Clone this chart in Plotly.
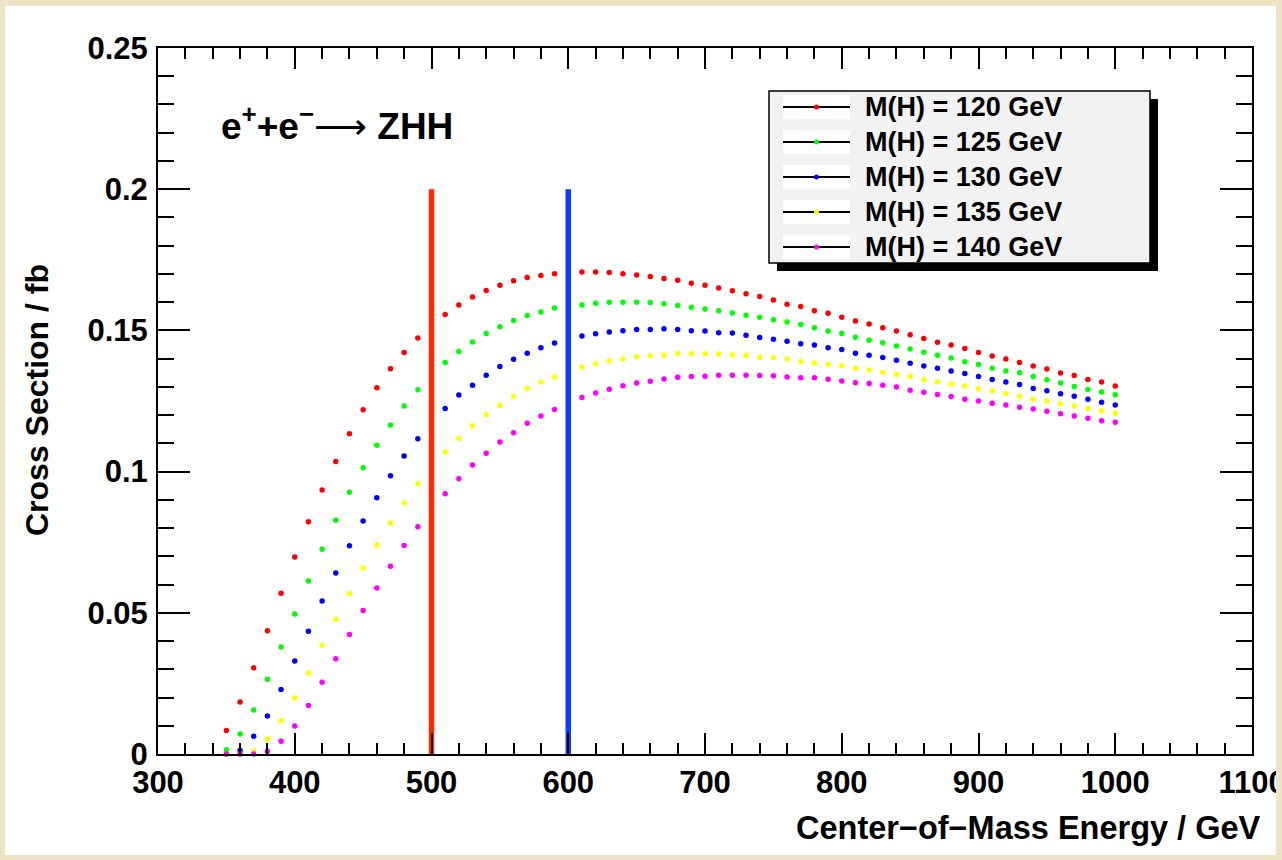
import plotly.graph_objects as go

# ---------------- data ----------------
energy = list(range(350, 1001, 10))  # GeV (points at 500 and 600 hidden behind the cut lines)

mh120 = [0.0083, 0.0184, 0.0305, 0.0436, 0.0569, 0.0698, 0.0822, 0.0935, 0.1036, 0.1134,
         0.1219, 0.1297, 0.1364, 0.1422, 0.1473, None, 0.1556, 0.1590, 0.1618, 0.1641,
         0.1660, 0.1676, 0.1687, 0.1694, 0.1701, None, 0.1707, 0.1707, 0.1705, 0.1701,
         0.1696, 0.1691, 0.1684, 0.1678, 0.1667, 0.1660, 0.1650, 0.1640, 0.1630, 0.1620,
         0.1608, 0.1593, 0.1585, 0.1570, 0.1561, 0.1547, 0.1533, 0.1523, 0.1509, 0.1498,
         0.1485, 0.1471, 0.1458, 0.1448, 0.1436, 0.1422, 0.1409, 0.1399, 0.1386, 0.1374,
         0.1363, 0.1349, 0.1340, 0.1326, 0.1317, 0.1303]
mh125 = [0.0015, 0.0071, 0.0156, 0.0265, 0.0379, 0.0496, 0.0613, 0.0725, 0.0828, 0.0927,
         0.1014, 0.1093, 0.1165, 0.1232, 0.1290, None, 0.1386, 0.1425, 0.1459, 0.1489,
         0.1513, 0.1535, 0.1553, 0.1565, 0.1579, None, 0.1590, 0.1596, 0.1600, 0.1600,
         0.1600, 0.1599, 0.1594, 0.1588, 0.1582, 0.1576, 0.1570, 0.1562, 0.1554, 0.1547,
         0.1538, 0.1530, 0.1521, 0.1509, 0.1498, 0.1489, 0.1476, 0.1465, 0.1456, 0.1445,
         0.1434, 0.1423, 0.1412, 0.1402, 0.1389, 0.1379, 0.1366, 0.1356, 0.1350, 0.1337,
         0.1325, 0.1314, 0.1301, 0.1291, 0.1282, 0.1272]
mh130 = [0.0000, 0.0012, 0.0063, 0.0135, 0.0228, 0.0329, 0.0435, 0.0542, 0.0641, 0.0737,
         0.0825, 0.0907, 0.0985, 0.1055, 0.1116, None, 0.1223, 0.1271, 0.1306, 0.1341,
         0.1372, 0.1398, 0.1419, 0.1439, 0.1455, None, 0.1480, 0.1488, 0.1494, 0.1499,
         0.1503, 0.1503, 0.1506, 0.1503, 0.1499, 0.1498, 0.1492, 0.1491, 0.1483, 0.1475,
         0.1469, 0.1462, 0.1453, 0.1448, 0.1439, 0.1432, 0.1419, 0.1412, 0.1404, 0.1394,
         0.1384, 0.1374, 0.1366, 0.1356, 0.1347, 0.1337, 0.1326, 0.1317, 0.1308, 0.1294,
         0.1286, 0.1276, 0.1267, 0.1256, 0.1246, 0.1236]
mh135 = [0.0000, 0.0000, 0.0010, 0.0053, 0.0118, 0.0198, 0.0287, 0.0384, 0.0478, 0.0568,
         0.0659, 0.0740, 0.0818, 0.0889, 0.0958, None, 0.1069, 0.1117, 0.1162, 0.1201,
         0.1234, 0.1265, 0.1294, 0.1317, 0.1335, None, 0.1370, 0.1382, 0.1392, 0.1399,
         0.1407, 0.1410, 0.1413, 0.1418, 0.1418, 0.1417, 0.1416, 0.1413, 0.1412, 0.1405,
         0.1404, 0.1399, 0.1390, 0.1385, 0.1379, 0.1375, 0.1366, 0.1360, 0.1351, 0.1344,
         0.1337, 0.1326, 0.1318, 0.1310, 0.1303, 0.1293, 0.1285, 0.1276, 0.1267, 0.1256,
         0.1250, 0.1241, 0.1233, 0.1223, 0.1215, 0.1207]
mh140 = [0.0000, 0.0000, 0.0000, 0.0010, 0.0045, 0.0099, 0.0172, 0.0254, 0.0337, 0.0423,
         0.0508, 0.0588, 0.0665, 0.0738, 0.0805, None, 0.0922, 0.0975, 0.1023, 0.1065,
         0.1105, 0.1138, 0.1171, 0.1197, 0.1220, None, 0.1262, 0.1278, 0.1292, 0.1304,
         0.1314, 0.1320, 0.1328, 0.1334, 0.1337, 0.1338, 0.1341, 0.1341, 0.1341, 0.1340,
         0.1339, 0.1335, 0.1332, 0.1332, 0.1327, 0.1321, 0.1315, 0.1312, 0.1306, 0.1300,
         0.1288, 0.1281, 0.1273, 0.1266, 0.1256, 0.1250, 0.1242, 0.1236, 0.1228, 0.1222,
         0.1214, 0.1205, 0.1197, 0.1189, 0.1180, 0.1175]

series_labels = ["M(H) = 120 GeV", "M(H) = 125 GeV", "M(H) = 130 GeV",
                 "M(H) = 135 GeV", "M(H) = 140 GeV"]
series_values = [mh120, mh125, mh130, mh135, mh140]
series_colors = ["#ff0000", "#00ff00", "#0000ff", "#ffff00", "#ff00ff"]

cut_energies = [500, 600]
cut_top = 0.2
cut_colors = ["#ff2a00", "#0a3cff"]

x_ticks = [300, 400, 500, 600, 700, 800, 900, 1000, 1100]
x_ticktext = ["300", "400", "500", "600", "700", "800", "900", "1000", "1100"]
y_ticks = [0, 0.05, 0.1, 0.15, 0.2, 0.25]
y_ticktext = ["0", "0.05", "0.1", "0.15", "0.2", "0.25"]

# ---------------- layout geometry (pixels) ----------------
FW, FH = 1282, 860
L, R, T, B = 158, 1252, 48, 754
PW, PH = R - L, B - T
PAGE_BG = "#ede3c6"


def px(x):
    return (x - L) / PW


def py(y):
    return (B - y) / PH


FONT = "Liberation Sans, Arial, Helvetica, sans-serif"

fig = go.Figure()

for lab, vals, col in zip(series_labels, series_values, series_colors):
    fig.add_trace(go.Scatter(
        x=energy, y=vals, mode="markers", name=lab, showlegend=False,
        marker=dict(color=col, size=5.5, line=dict(width=0)),
        cliponaxis=False,
    ))

for e, col in zip(cut_energies, cut_colors):
    fig.add_trace(go.Scatter(
        x=[e, e], y=[0, cut_top], mode="lines", showlegend=False,
        line=dict(color=col, width=5.5), hoverinfo="skip",
    ))

shapes = []
# white panel on beige page
shapes.append(dict(type="rect", xref="paper", yref="paper", layer="below",
                   x0=px(5), x1=px(1276), y0=py(855), y1=py(6),
                   fillcolor="white", line=dict(width=0)))
# page margin at right edge clips the overflowing last tick label
shapes.append(dict(type="rect", xref="paper", yref="paper", layer="above",
                   x0=px(1276), x1=px(1290), y0=py(870), y1=py(-10),
                   fillcolor=PAGE_BG, line=dict(width=0)))

# legend box with shadow
LX0, LX1, LY0, LY1 = 769, 1150, 91, 263
SH = 8
shapes.append(dict(type="rect", xref="paper", yref="paper", layer="above",
                   x0=px(LX0 + SH), x1=px(LX1 + SH), y0=py(LY1 + SH), y1=py(LY0 + SH),
                   fillcolor="black", line=dict(width=0)))
shapes.append(dict(type="rect", xref="paper", yref="paper", layer="above",
                   x0=px(LX0), x1=px(LX1), y0=py(LY1), y1=py(LY0),
                   fillcolor="#f2f2f2", line=dict(color="black", width=1.5)))

annotations = []
row0, rstep = 107, 35
for i, (lab, col) in enumerate(zip(series_labels, series_colors)):
    yc = row0 + i * rstep
    shapes.append(dict(type="rect", xref="paper", yref="paper", layer="above",
                       x0=px(783), x1=px(850), y0=py(yc + 12), y1=py(yc - 12),
                       fillcolor="white", line=dict(width=0)))
    shapes.append(dict(type="line", xref="paper", yref="paper", layer="above",
                       x0=px(783), x1=px(850), y0=py(yc), y1=py(yc),
                       line=dict(color="black", width=1.8)))
    shapes.append(dict(type="circle", xref="paper", yref="paper", layer="above",
                       x0=px(814), x1=px(819), y0=py(yc + 2.5), y1=py(yc - 2.5),
                       fillcolor=col, line=dict(width=0)))
    annotations.append(dict(xref="paper", yref="paper", x=px(863), y=py(yc),
                            xanchor="left", yanchor="middle", showarrow=False,
                            text=lab, font=dict(family=FONT, size=27, color="black",
                                                weight="bold")))

# process label
annotations.append(dict(xref="paper", yref="paper", x=px(219), y=py(123),
                        xanchor="left", yanchor="middle", showarrow=False,
                        text="e<sup>+</sup>+e<sup>−</sup><span style='font-weight:normal'>⟶</span> ZHH",
                        font=dict(family=FONT, size=37, color="black", weight="bold")))
# axis titles
annotations.append(dict(xref="paper", yref="paper", x=px(1263), y=py(828),
                        xanchor="right", yanchor="middle", showarrow=False,
                        text="Center−of−Mass Energy / GeV",
                        font=dict(family=FONT, size=32.5, color="black", weight="bold")))
annotations.append(dict(xref="paper", yref="paper", x=px(37), y=py(400),
                        xanchor="center", yanchor="middle", showarrow=False, textangle=-90,
                        text="Cross Section / fb",
                        font=dict(family=FONT, size=32, color="black", weight="bold")))

axis_common = dict(
    showgrid=False, zeroline=False, showline=True, linecolor="black", linewidth=2,
    mirror="ticks", ticks="inside", tickcolor="black", tickwidth=2, automargin=False,
    tickfont=dict(family=FONT, size=31, color="black", weight="bold"),
)

fig.update_layout(
    width=FW, height=FH,
    margin=dict(l=L, r=FW - R, t=T, b=FH - B, pad=0, autoexpand=False),
    paper_bgcolor=PAGE_BG, plot_bgcolor="white",
    showlegend=False,
    shapes=shapes, annotations=annotations,
    xaxis=dict(range=[300, 1100], tickvals=x_ticks, ticktext=x_ticktext, ticklen=21,
               ticklabeloverflow="allow",
               minor=dict(dtick=20, ticklen=11, ticks="inside", tickcolor="black",
                          tickwidth=2, showgrid=False),
               **axis_common),
    yaxis=dict(range=[0, 0.25], tickvals=y_ticks, ticktext=y_ticktext, ticklen=32,
               ticklabelstandoff=2,
               minor=dict(dtick=0.01, ticklen=16, ticks="inside", tickcolor="black",
                          tickwidth=2, showgrid=False),
               **axis_common),
)

fig.write_html("out.html", config={"displayModeBar": False},
               post_script="document.body.style.margin='0';")
